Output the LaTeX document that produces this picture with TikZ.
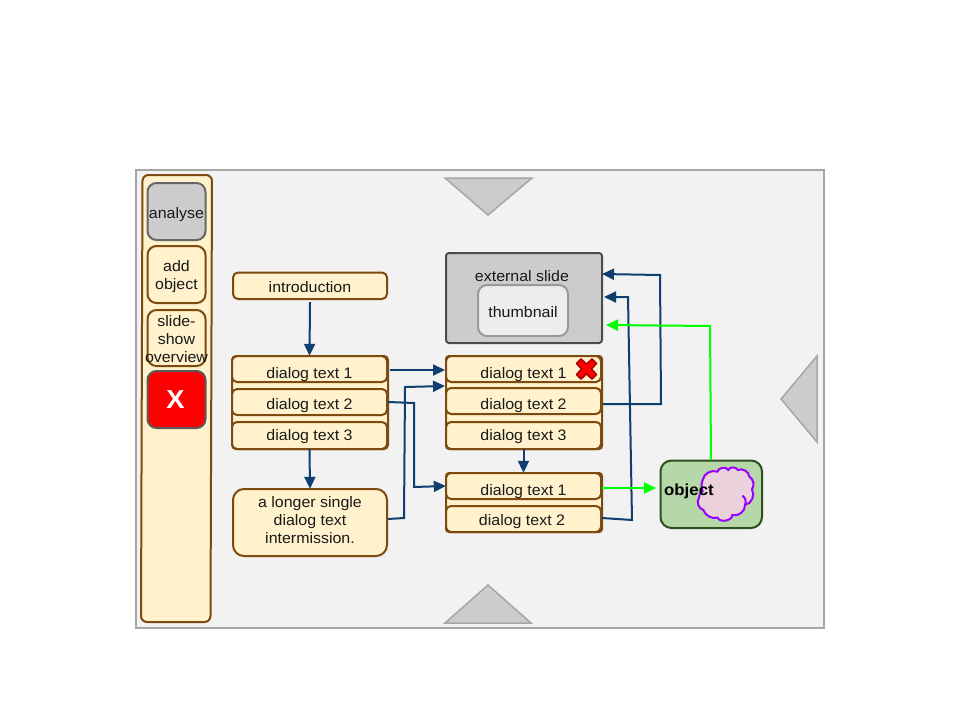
\documentclass[tikz,border=0pt]{standalone}
\usepackage{fontspec}
\setmainfont[FakeStretch=1.05]{Liberation Sans}
\usetikzlibrary{arrows.meta,calc}
\definecolor{bgc}{HTML}{F2F2F2}
\definecolor{edgeg}{HTML}{A6A6A6}
\definecolor{cream}{HTML}{FFF2CC}
\definecolor{brownc}{HTML}{7F4A0F}
\definecolor{navy}{HTML}{0F3F6F}
\definecolor{lime}{HTML}{00FF00}
\definecolor{greyc}{HTML}{CCCCCC}
\definecolor{objg}{HTML}{B6D7A8}
\definecolor{objd}{HTML}{2D4F1C}
\definecolor{purp}{HTML}{9900FF}
\definecolor{pinkc}{HTML}{EAD1DC}
\definecolor{crossd}{HTML}{A80000}
\tikzset{
  txt/.style={font=\fontsize{15.2}{18}\selectfont,text=black!90,align=center,inner sep=0pt},
  bx/.style={draw=brownc,fill=cream,line width=2pt},
  conn/.style={draw=navy,line width=2pt,-{Triangle[length=12pt,width=11pt]}},
  green conn/.style={draw=lime,line width=2pt,-{Triangle[length=12pt,width=11pt]}},
  tri/.style={draw=edgeg,fill=greyc,line width=1.5pt},
}
% box: x1,y1,x2,y2,radius,style,name,text y offset,text
\newcommand{\pbox}[9]{%
  \path[#6,rounded corners=#5pt] (#1,#2) rectangle (#3,#4);
  \node[txt,minimum width=#3pt-#1pt,minimum height=#4pt-#2pt] (#7) at ({(#1+#3)/2},{(#2+#4)/2}) {};
  \node[txt] at ({(#1+#3)/2},{(#2+#4)/2+#8}) {#9};
}
\begin{document}
\begin{tikzpicture}[x=1pt,y=-1pt]
\useasboundingbox (0,0) rectangle (960,720);
\path[fill=white] (0,0) rectangle (960,720);
\draw[draw=edgeg,fill=bgc,line width=2pt] (136,170) rectangle (824,628);
\draw[tri] (445,178) -- (532,178) -- (488,215) -- cycle;
\draw[tri] (445,623) -- (531,623) -- (488,585) -- cycle;
\draw[tri] (817,356) -- (817,442) -- (781,399) -- cycle;
% sidebar
\draw[bx,rounded corners=6pt] (142.5,175) -- (212,175) -- (210.5,622) -- (141,622) -- cycle;
\pbox{147.5}{183}{205.5}{240}{9}{draw=black!60,fill=greyc,line width=2pt}{analyse}{3}{analyse}
\pbox{147.5}{246}{205.5}{303}{9}{bx}{addobj}{2.5}{add\\object}
\pbox{147.5}{310}{205.5}{366}{9}{bx}{slideshow}{1.5}{slide-\\show\\overview}
\path[draw=black!65,fill=red,line width=2pt,rounded corners=9pt] (147.5,371) rectangle (205.5,428);
\node[font=\fontsize{26}{28}\selectfont\bfseries,text=white,inner sep=0pt] (closebtn) at (175.5,400) {X};
% first column
\pbox{233}{272.5}{387}{299}{5}{bx}{intro}{1.5}{introduction}
\path[bx,rounded corners=4pt] (232,356) rectangle (388,449);
\pbox{232}{356}{387}{382}{5}{bx}{aone}{5.5}{dialog text 1}
\pbox{232}{389}{387}{415}{5}{bx}{atwo}{3.5}{dialog text 2}
\pbox{232}{422}{387}{449}{5}{bx}{athree}{1}{dialog text 3}
\pbox{233}{489}{387}{556}{11}{bx}{longer}{-2}{a longer single\\dialog text\\intermission.}
% external slide
\path[draw=black!70,fill=greyc,line width=2pt,rounded corners=3pt] (446,253) rectangle (602,343);
\node[txt] (extlabel) at (522,276.5) {external slide};
\pbox{478}{285}{568}{336}{9}{draw=black!40,fill=black!7,line width=2pt}{thumb}{2}{thumbnail}
% second column
\path[bx,rounded corners=3pt] (446,356) rectangle (602,449);
\pbox{446}{356}{601}{382}{5}{bx}{bone}{5.5}{dialog text 1}
\pbox{446}{388}{601}{414}{5}{bx}{btwo}{4.5}{dialog text 2}
\pbox{446}{422}{601}{449}{5}{bx}{bthree}{1}{dialog text 3}
\path[draw=crossd,fill=red,line width=1.5pt,line join=round]
  (586.5,369) ++(-5.5,-10) -- ++(5.5,5) -- ++(5.5,-5) -- ++(4.5,4.5) -- ++(-5,5.5) -- ++(5,5.5) -- ++(-4.5,4.5) -- ++(-5.5,-5) -- ++(-5.5,5) -- ++(-4.5,-4.5) -- ++(5,-5.5) -- ++(-5,-5.5) -- cycle;
\path[bx,rounded corners=3pt] (446,473) rectangle (602,532);
\pbox{446}{473}{601}{499}{5}{bx}{cone}{5.5}{dialog text 1}
\pbox{446}{506}{601}{532}{5}{bx}{ctwo}{2.5}{\hspace*{-3pt}dialog text 2}
% object
\path[draw=objd,fill=objg,line width=2pt,rounded corners=11pt] (660.5,460.5) rectangle (762,528);
\begin{scope}[shift={(655,455)},x=0.3333pt,y=-0.3333pt]
\draw[draw=purp,fill=pinkc,line width=2pt] (143,75)
  to[bend left=50] (187,50) to[bend left=70] (220,45) to[bend left=70] (248,45)
  to[bend left=55] (283,65) to[bend left=45] (291,103) to[bend left=55] (270,150)
  to[bend left=55] (232,180) to[bend left=80] (188,188) to[bend left=40] (145,165)
  to[bend left=55] (132,128) to[bend left=30] (143,108) to[bend left=20] cycle;
\draw[draw=purp,line width=2pt] (262,122) to[bend left=40] (270,150);
\end{scope}
\node[font=\fontsize{16}{18}\selectfont\bfseries,inner sep=0pt,anchor=base west,text=black] (objlabel) at (664,495) {object};
\coordinate (objbox) at (711,460);
\coordinate (objw) at (656,488);
% connectors
\draw[conn] (intro.south) ++(0,3) -- (aone.north);
\draw[conn] (aone.east) ++(3,1) -- (445,370);
\draw[conn] (atwo.east) ++(1,0) -- (414,403) -- (414,487) -- (cone.west);
\draw[conn] (longer.east) ++(1,-3.5) -- (404,518) -- (405,387) -- (445,386);
\draw[conn] (athree.south) -- (longer.north);
\draw[conn] (bthree.south) -- (cone.north);
\draw[conn] (btwo.east) ++(2,3) -- (661,404) -- (660,275) -- (602,274);
\draw[conn] (ctwo.east) ++(1,-1) -- (632,520) -- (628,297) -- (604,297);
\draw[green conn] (cone.east) ++(1,2) -- (objw);
\draw[green conn] (objbox) -- (710,326) -- (606,325);
\end{tikzpicture}
\end{document}
